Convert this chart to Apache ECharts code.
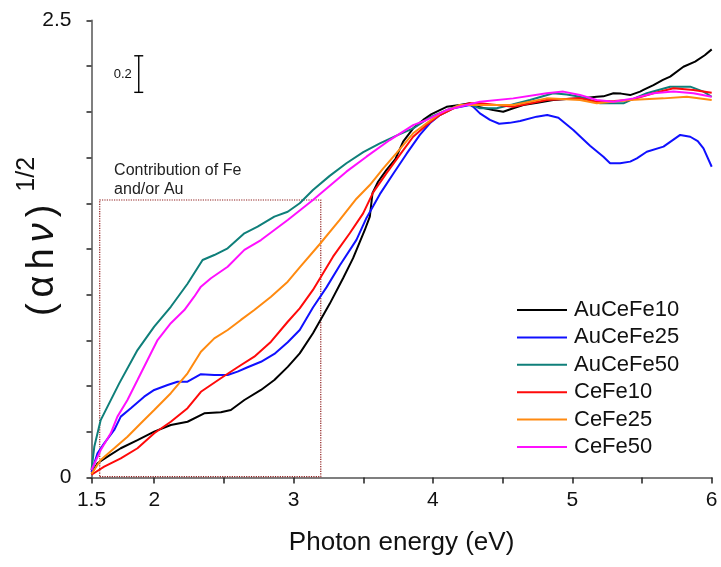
<!DOCTYPE html>
<html>
<head>
<meta charset="utf-8">
<script src="https://cdn.jsdelivr.net/npm/echarts@6/dist/echarts.min.js"></script>
<style>
  html, body { margin: 0; padding: 0; background: #fff; }
  #chart { width: 721px; height: 567px; }
</style>
</head>
<body>
<div id="chart"></div>
<script>
  // 数据：读自原图 (photon energy eV, (αhν)^1/2)
  var seriesNames = ['AuCeFe10', 'AuCeFe25', 'AuCeFe50', 'CeFe10', 'CeFe25', 'CeFe50'];
  var colorList = ['#000000', '#1010ff', '#0f7f7a', '#ff0a0a', '#ff8a10', '#ff10ff'];

  var xAuCeFe10 = [1.55, 1.593, 1.665, 1.76, 1.88, 2.0, 2.119, 2.239, 2.359, 2.478, 2.55, 2.647, 2.766, 2.862, 2.958, 3.044, 3.139, 3.259, 3.355, 3.427, 3.511, 3.547, 3.566, 3.606, 3.667, 3.73, 3.786, 3.858, 3.93, 3.99, 4.098, 4.193, 4.265, 4.337, 4.432, 4.504, 4.576, 4.648, 4.75, 4.863, 4.96, 5.055, 5.175, 5.223, 5.295, 5.35, 5.415, 5.486, 5.51, 5.582, 5.65, 5.702, 5.797, 5.881, 5.95, 6.0];
  var yAuCeFe10 = [0.02, 0.078, 0.114, 0.16, 0.205, 0.251, 0.287, 0.305, 0.351, 0.357, 0.369, 0.424, 0.479, 0.533, 0.605, 0.679, 0.789, 0.95, 1.09, 1.2, 1.354, 1.427, 1.555, 1.618, 1.683, 1.742, 1.837, 1.91, 1.956, 1.988, 2.028, 2.038, 2.047, 2.025, 2.01, 2.001, 2.02, 2.038, 2.05, 2.065, 2.07, 2.074, 2.083, 2.085, 2.102, 2.1, 2.092, 2.111, 2.12, 2.147, 2.175, 2.193, 2.247, 2.275, 2.31, 2.342];

  var xAuCeFe25 = [1.55, 1.593, 1.641, 1.713, 1.76, 1.832, 1.928, 2.0, 2.096, 2.167, 2.239, 2.335, 2.431, 2.527, 2.598, 2.67, 2.766, 2.862, 2.958, 3.044, 3.139, 3.236, 3.331, 3.451, 3.523, 3.619, 3.714, 3.81, 3.906, 3.978, 4.05, 4.145, 4.265, 4.289, 4.337, 4.409, 4.475, 4.55, 4.626, 4.744, 4.82, 4.9, 5.007, 5.127, 5.223, 5.271, 5.343, 5.415, 5.463, 5.534, 5.654, 5.774, 5.846, 5.9, 5.941, 6.0];
  var yAuCeFe25 = [0.03, 0.132, 0.187, 0.26, 0.333, 0.379, 0.442, 0.479, 0.506, 0.524, 0.524, 0.565, 0.561, 0.561, 0.579, 0.603, 0.633, 0.676, 0.74, 0.807, 0.93, 1.04, 1.16, 1.3, 1.42, 1.55, 1.66, 1.77, 1.874, 1.938, 1.983, 2.02, 2.038, 2.028, 1.992, 1.956, 1.935, 1.94, 1.95, 1.974, 1.983, 1.968, 1.901, 1.815, 1.755, 1.719, 1.719, 1.728, 1.746, 1.782, 1.81, 1.874, 1.864, 1.84, 1.8, 1.7];

  var xAuCeFe50 = [1.55, 1.57, 1.616, 1.749, 1.88, 2.0, 2.119, 2.239, 2.347, 2.431, 2.527, 2.647, 2.742, 2.862, 2.958, 3.044, 3.139, 3.259, 3.379, 3.5, 3.619, 3.738, 3.858, 3.978, 4.098, 4.193, 4.265, 4.337, 4.457, 4.57, 4.696, 4.863, 4.96, 5.055, 5.199, 5.367, 5.45, 5.534, 5.702, 5.846, 5.941, 6.0];
  var yAuCeFe50 = [0.04, 0.168, 0.314, 0.515, 0.697, 0.825, 0.934, 1.06, 1.19, 1.217, 1.254, 1.336, 1.372, 1.427, 1.454, 1.5, 1.573, 1.65, 1.719, 1.78, 1.828, 1.87, 1.91, 1.97, 2.01, 2.038, 2.04, 2.02, 2.02, 2.04, 2.065, 2.102, 2.095, 2.083, 2.047, 2.047, 2.075, 2.102, 2.138, 2.138, 2.111, 2.083];

  var xCeFe10 = [1.55, 1.641, 1.76, 1.88, 2.0, 2.119, 2.239, 2.335, 2.478, 2.598, 2.718, 2.838, 2.958, 3.044, 3.139, 3.283, 3.403, 3.499, 3.571, 3.667, 3.762, 3.858, 3.954, 4.05, 4.17, 4.265, 4.337, 4.576, 4.816, 5.055, 5.175, 5.3, 5.415, 5.582, 5.726, 5.869, 6.0];
  var yCeFe10 = [0.015, 0.059, 0.105, 0.16, 0.242, 0.305, 0.379, 0.469, 0.543, 0.603, 0.661, 0.743, 0.852, 0.925, 1.026, 1.208, 1.336, 1.445, 1.56, 1.665, 1.765, 1.864, 1.928, 1.983, 2.028, 2.047, 2.047, 2.028, 2.065, 2.074, 2.056, 2.06, 2.065, 2.102, 2.129, 2.12, 2.105];

  var xCeFe25 = [1.55, 1.616, 1.713, 1.808, 1.904, 2.0, 2.119, 2.239, 2.335, 2.431, 2.527, 2.622, 2.718, 2.838, 2.958, 3.044, 3.187, 3.331, 3.451, 3.547, 3.642, 3.738, 3.858, 3.954, 4.05, 4.193, 4.337, 4.576, 4.816, 5.055, 5.175, 5.415, 5.654, 5.822, 6.0];
  var yCeFe25 = [0.02, 0.096, 0.16, 0.223, 0.297, 0.369, 0.461, 0.57, 0.688, 0.761, 0.807, 0.862, 0.916, 0.989, 1.071, 1.15, 1.276, 1.409, 1.525, 1.6, 1.69, 1.775, 1.883, 1.938, 1.992, 2.038, 2.038, 2.038, 2.074, 2.065, 2.047, 2.065, 2.074, 2.083, 2.065];

  var xCeFe50 = [1.55, 1.616, 1.688, 1.736, 1.808, 1.88, 1.952, 2.024, 2.119, 2.216, 2.287, 2.335, 2.407, 2.527, 2.647, 2.766, 2.862, 2.958, 3.139, 3.379, 3.523, 3.69, 3.858, 3.954, 4.098, 4.242, 4.337, 4.576, 4.816, 4.935, 5.055, 5.175, 5.295, 5.439, 5.582, 5.726, 5.869, 6.0];
  var yCeFe50 = [0.041, 0.15, 0.242, 0.333, 0.424, 0.533, 0.643, 0.752, 0.844, 0.916, 0.989, 1.044, 1.09, 1.153, 1.245, 1.299, 1.354, 1.409, 1.518, 1.673, 1.755, 1.846, 1.928, 1.956, 2.01, 2.038, 2.056, 2.074, 2.102, 2.111, 2.092, 2.065, 2.056, 2.074, 2.102, 2.111, 2.102, 2.083];

  var xList = [xAuCeFe10, xAuCeFe25, xAuCeFe50, xCeFe10, xCeFe25, xCeFe50];
  var yList = [yAuCeFe10, yAuCeFe25, yAuCeFe50, yCeFe10, yCeFe25, yCeFe50];

  // 坐标轴刻度
  var xTickValues = [1.55, 2, 2.5, 3, 3.5, 4, 4.5, 5, 5.5, 6];
  var xLabelValues = [1.55, 2, 3, 4, 5, 6];
  var xLabelTexts = ['1.5', '2', '3', '4', '5', '6'];
  var yLabelValues = [0, 2.5];

  // 标尺 0.2 和虚线框
  var scaleBar = [1.889, 2.107, 0.2];
  var boxFrom = [1.609, 0.005];
  var boxTo = [3.195, 1.518];

  var fontFamily = '"Liberation Sans", Arial, sans-serif';

  function zip(xs, ys) {
    return xs.map(function (x, i) { return [x, ys[i]]; });
  }

  var chart = echarts.init(document.getElementById('chart'));

  var seriesList = seriesNames.map(function (name, i) {
    return {
      name: name,
      type: 'line',
      data: zip(xList[i], yList[i]),
      symbol: 'none',
      showSymbol: false,
      smooth: false,
      lineStyle: { color: colorList[i], width: 2 },
      itemStyle: { color: colorList[i] },
      z: 3 + i
    };
  });

  // 虚线框
  seriesList.push({
    name: 'box',
    type: 'line',
    data: [],
    silent: true,
    markArea: {
      silent: true,
      itemStyle: {
        color: 'rgba(0,0,0,0)',
        borderColor: '#8e1c1c',
        borderWidth: 1.2,
        borderType: 'dotted'
      },
      label: {
        show: true,
        position: [15, -38],
        color: '#222',
        fontSize: 16,
        lineHeight: 19,
        fontFamily: fontFamily,
        formatter: 'Contribution of Fe\nand/or Au'
      },
      data: [[{ coord: boxFrom }, { coord: boxTo }]]
    }
  });

  // 0.2 标尺
  seriesList.push({
    name: 'scale',
    type: 'custom',
    silent: true,
    encode: { x: 0, y: [1, 2] },
    data: [[scaleBar[0], scaleBar[1], scaleBar[1] + scaleBar[2]]],
    renderItem: function (params, api) {
      var top = api.coord([api.value(0), api.value(2)]);
      var bot = api.coord([api.value(0), api.value(1)]);
      var cap = 4.5;
      var stroke = { stroke: '#000', lineWidth: 1.4 };
      return {
        type: 'group',
        children: [
          { type: 'line', shape: { x1: top[0], y1: top[1], x2: bot[0], y2: bot[1] }, style: stroke },
          { type: 'line', shape: { x1: top[0] - cap, y1: top[1], x2: top[0] + cap, y2: top[1] }, style: stroke },
          { type: 'line', shape: { x1: bot[0] - cap, y1: bot[1], x2: bot[0] + cap, y2: bot[1] }, style: stroke },
          {
            type: 'text',
            style: {
              text: '0.2', x: top[0] - 7, y: (top[1] + bot[1]) / 2,
              align: 'right', verticalAlign: 'middle',
              fontSize: 13, fontFamily: fontFamily, fill: '#111'
            }
          }
        ]
      };
    }
  });

  chart.setOption({
    animation: false,
    backgroundColor: '#fff',
    grid: { left: 91.5, right: 9.3, top: 20.5, bottom: 89.5, containLabel: false, outerBoundsMode: 'none' },
    legend: {
      data: seriesNames,
      orient: 'vertical',
      left: 517,
      top: 299,
      padding: 0,
      icon: 'rect',
      itemWidth: 50,
      itemHeight: 2,
      itemGap: 5.4,
      textStyle: { fontSize: 22, lineHeight: 22, color: '#111', fontFamily: fontFamily, padding: [0, 0, 0, 2] }
    },
    xAxis: {
      type: 'value',
      min: 1.55,
      max: 6,
      name: 'Photon energy (eV)',
      nameLocation: 'middle',
      nameGap: 52,
      nameMoveOverlap: false,
      nameTextStyle: { fontSize: 26, color: '#111', fontFamily: fontFamily },
      axisLine: { lineStyle: { color: '#7f7f7f', width: 2 } },
      axisTick: {
        customValues: xTickValues,
        length: 6,
        lineStyle: { color: '#222', width: 1.5 }
      },
      axisLabel: {
        customValues: xLabelValues,
        margin: 12,
        fontSize: 21,
        color: '#111',
        fontFamily: fontFamily,
        formatter: function (v) {
          var k = xLabelValues.indexOf(v);
          return k >= 0 ? xLabelTexts[k] : '';
        }
      },
      splitLine: { show: false }
    },
    yAxis: {
      type: 'value',
      min: 0,
      max: 2.5,
      interval: 0.25,
      name: '{p|(}{p|α}{p|h}{n|ν}{p|)}{s|1/2}',
      nameLocation: 'middle',
      nameGap: 30,
      nameMoveOverlap: false,
      nameTextStyle: {
        color: '#111',
        fontFamily: fontFamily,
        padding: [0, 0, 0, 22],
        rich: {
          p: { fontSize: 38, fontFamily: fontFamily, color: '#111', verticalAlign: 'bottom', padding: [0, 3, 0, 3] },
          n: { fontSize: 38, fontStyle: 'italic', fontFamily: fontFamily, color: '#111', verticalAlign: 'bottom', padding: [0, 3, 0, 3] },
          s: { fontSize: 25, fontFamily: fontFamily, color: '#111', verticalAlign: 'bottom', padding: [0, 0, 22, 10] }
        }
      },
      axisLine: { lineStyle: { color: '#7f7f7f', width: 2 } },
      axisTick: { length: 5, lineStyle: { color: '#222', width: 1.5 } },
      axisLabel: {
        customValues: yLabelValues,
        margin: 20,
        fontSize: 21,
        color: '#111',
        fontFamily: fontFamily
      },
      splitLine: { show: false }
    },
    series: seriesList
  });
</script>
</body>
</html>
